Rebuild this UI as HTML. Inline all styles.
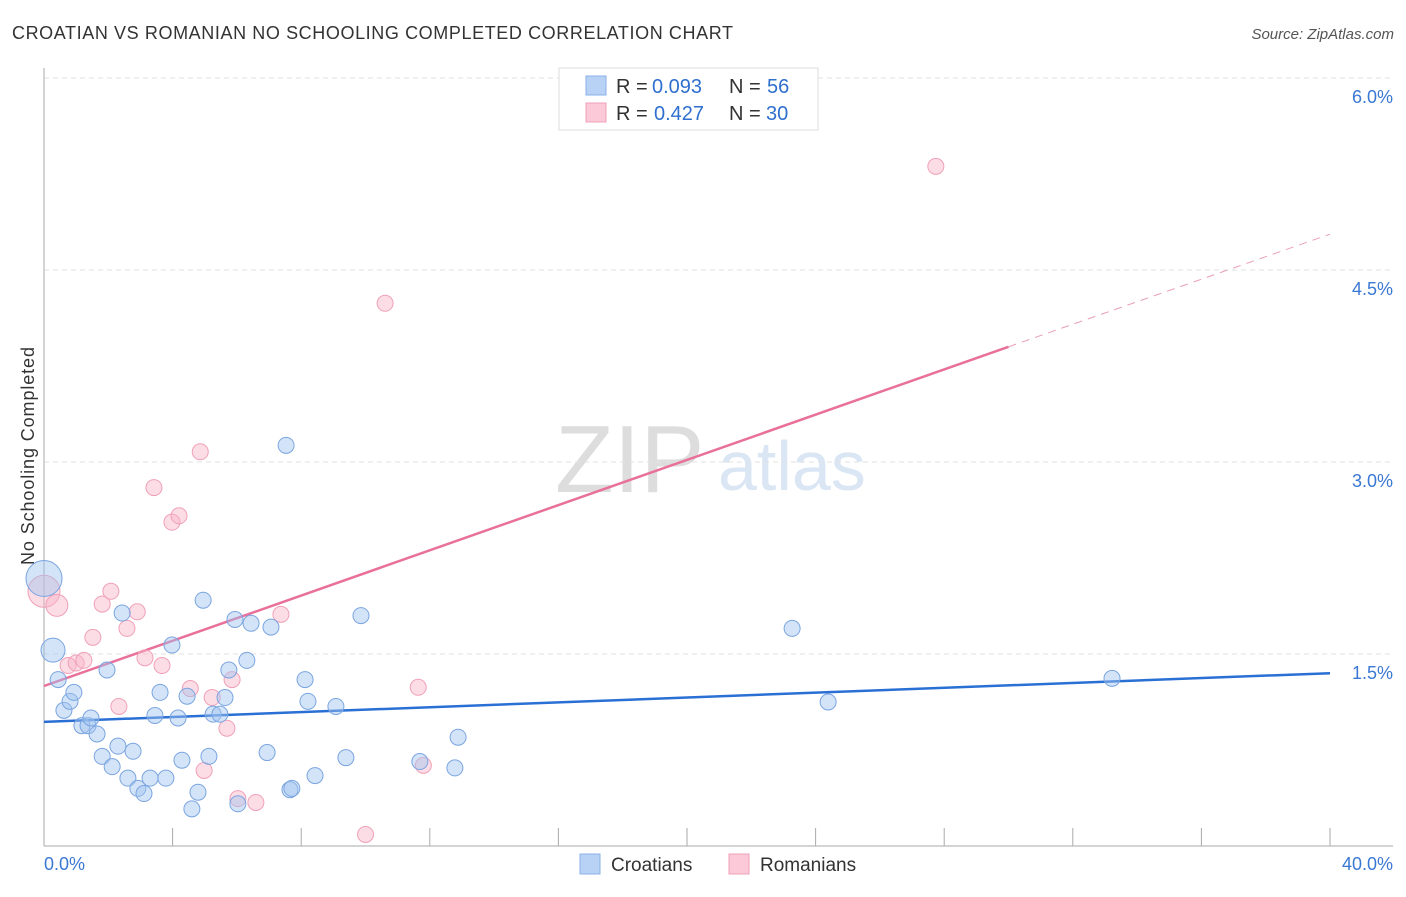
<!DOCTYPE html>
<html><head><meta charset="utf-8"><style>
body{margin:0;background:#fff;font-family:"Liberation Sans",sans-serif;}
svg text{font-family:"Liberation Sans",sans-serif;}
</style></head><body>
<svg id="chart" width="1406" height="892">
<text x="12" y="39" font-size="18" fill="#333" textLength="721">CROATIAN VS ROMANIAN NO SCHOOLING COMPLETED CORRELATION CHART</text>
<text x="1394" y="39" font-size="15" fill="#555" font-style="italic" text-anchor="end">Source: ZipAtlas.com</text>
<text x="555" y="492" font-size="96" fill="#ddd" font-family="Liberation Serif">ZIP</text>
<text x="718" y="490" font-size="70" fill="#dbe6f5">atlas</text>
<text transform="translate(34,456) rotate(-90)" font-size="18" fill="#333" text-anchor="middle" textLength="218">No Schooling Completed</text>
<g id="grid"></g><g id="axes"></g><g id="lines"></g><g id="pts"></g>
<g>
<rect x="559" y="68" width="259" height="62" fill="#fff" stroke="#ddd"/>
<rect x="586" y="76" width="20" height="19" fill="#b8d2f5" stroke="#8ab0e8"/>
<rect x="586" y="103" width="20" height="19" fill="#fcc9d8" stroke="#f0a0b8"/>
<text x="616" y="93" font-size="20" fill="#333">R =</text>
<text x="652" y="93" font-size="20" fill="#2f6fce">0.093</text>
<text x="729" y="93" font-size="20" fill="#333">N =</text>
<text x="767" y="93" font-size="20" fill="#2f6fce">56</text>
<text x="616" y="120" font-size="20" fill="#333">R =</text>
<text x="654" y="120" font-size="20" fill="#2f6fce">0.427</text>
<text x="729" y="120" font-size="20" fill="#333">N =</text>
<text x="766" y="120" font-size="20" fill="#2f6fce">30</text>
</g>
<g>
<rect x="580" y="854" width="20" height="20" fill="#b8d2f5" stroke="#8ab0e8"/>
<text x="611" y="871" font-size="19" fill="#333">Croatians</text>
<rect x="729" y="854" width="20" height="20" fill="#fcc9d8" stroke="#f0a0b8"/>
<text x="760" y="871" font-size="19" fill="#333">Romanians</text>
</g>
</svg>
<script>
const yTicks=[1.5,3.0,4.5,6.0];
const yTickLabels=["1.5%","3.0%","4.5%","6.0%"];
const xTicks=[0,4,8,12,16,20,24,28,32,36,40];
const xTickLabels=["0.0%","40.0%"];
const croatX=[0,0.28,0.44,0.62,0.81,0.93,1.18,1.37,1.46,1.65,1.81,1.96,2.12,2.30,2.43,2.61,2.77,2.92,3.11,3.30,3.45,3.61,3.79,3.98,4.17,4.29,4.45,4.60,4.79,4.95,5.13,5.26,5.47,5.63,5.75,5.94,6.03,6.31,6.44,6.94,7.06,7.53,7.65,7.71,8.12,8.21,8.43,9.08,9.39,9.86,11.69,12.78,12.88,23.27,24.39,33.22];
const croatY=[2.09,1.53,1.30,1.06,1.13,1.20,0.94,0.94,1.00,0.875,0.70,1.375,0.62,0.78,1.82,0.53,0.74,0.45,0.41,0.53,1.02,1.20,0.53,1.57,1.00,0.67,1.17,0.29,0.42,1.92,0.70,1.03,1.03,1.16,1.375,1.77,0.33,1.45,1.74,0.73,1.71,3.13,0.44,0.45,1.30,1.13,0.55,1.09,0.69,1.80,0.66,0.61,0.85,1.70,1.125,1.31];
const romX=[0,0.40,0.75,1.00,1.24,1.52,1.81,2.08,2.33,2.58,2.90,3.14,3.42,3.67,3.98,4.20,4.55,4.86,5.23,5.69,5.85,4.98,6.03,6.59,7.37,10.0,10.61,11.64,11.80,27.74];
const romY=[1.99,1.88,1.41,1.43,1.45,1.63,1.89,1.99,1.09,1.70,1.83,1.47,2.80,1.41,2.53,2.58,1.23,3.08,1.16,0.92,1.30,0.59,0.37,0.34,1.81,0.09,4.24,1.24,0.63,5.31];
const X0=44,X1=1330,Y0=846,YT=78;
const sx=v=>X0+(X1-X0)*v/40, sy=v=>Y0-(Y0-YT)*v/6;
const NS="http://www.w3.org/2000/svg";
function mk(p,tag,a){const e=document.createElementNS(NS,tag);for(const k in a)e.setAttribute(k,a[k]);document.getElementById(p).appendChild(e);return e;}
yTicks.forEach((t,i)=>{
 let l=mk('grid','line',{x1:X0,x2:1393,y1:sy(t),y2:sy(t),stroke:'#e2e2e2','stroke-dasharray':'5,4'});
 
 
 let tx=mk('axes','text',{x:1393,y:sy(t)+25,'font-size':18,fill:'#3a78d4','text-anchor':'end'});
 tx.textContent=yTickLabels[i];
 
 
});
let ax=mk('axes','line',{x1:X0,x2:1393,y1:Y0,y2:Y0,stroke:'#aaa'});


let ay=mk('axes','line',{x1:X0,x2:X0,y1:68,y2:Y0,stroke:'#aaa'});


xTicks.forEach(t=>{let l=mk('axes','line',{x1:sx(t),x2:sx(t),y1:Y0,y2:828,stroke:'#aaa'});
 
 });
let xl=mk('axes','text',{x:44,y:870,'font-size':18,fill:'#3a78d4'});xl.textContent=xTickLabels[0];


let xr=mk('axes','text',{x:1393,y:870,'font-size':18,fill:'#3a78d4','text-anchor':'end'});xr.textContent=xTickLabels[1];


let bl=mk('lines','line',{x1:sx(0),y1:sy(0.97),x2:sx(40),y2:sy(1.35),stroke:'#2a6fd4','stroke-width':2.5});


let pl=mk('lines','line',{x1:sx(0),y1:sy(1.25),x2:sx(30),y2:sy(3.9),stroke:'#e8709a','stroke-width':2.5});


let pd=mk('lines','line',{x1:sx(30),y1:sy(3.9),x2:sx(40),y2:sy(4.78),stroke:'#e8a0b8','stroke-width':1,'stroke-dasharray':'8,6'});


romX.forEach((x,i)=>{let c=mk('pts','circle',{cx:sx(x),cy:sy(romY[i]),r:i===0?16:(i===1?11:8),fill:'rgba(248,180,200,0.45)',stroke:'#f0a0b8'});
 
 });
croatX.forEach((x,i)=>{let c=mk('pts','circle',{cx:sx(x),cy:sy(croatY[i]),r:i===0?18:(i===1?12:8),fill:'rgba(160,195,240,0.45)',stroke:'#7aa5e0'});
 
 });
</script>
</body></html>
